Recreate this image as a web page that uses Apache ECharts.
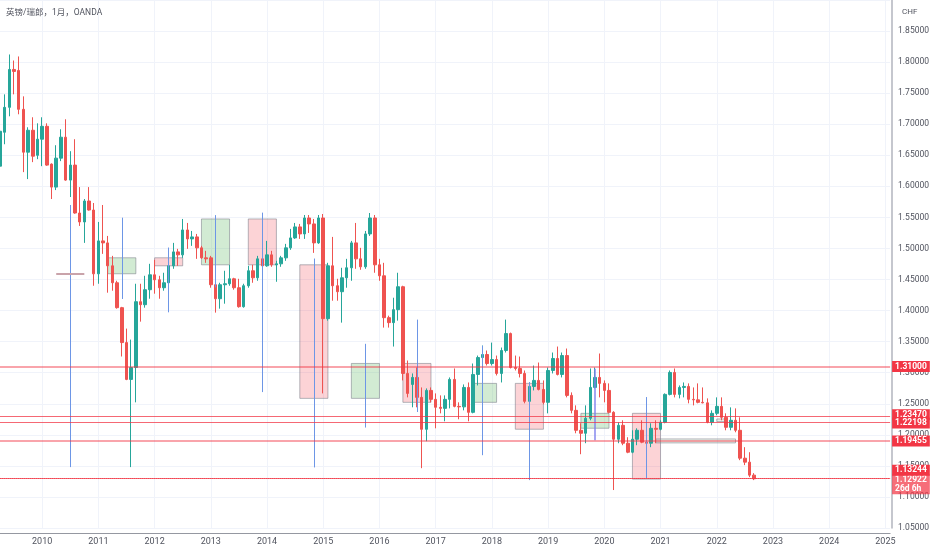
<!DOCTYPE html>
<html>
<head>
<meta charset="utf-8">
<script src="https://cdn.jsdelivr.net/npm/echarts@6/dist/echarts.min.js"></script>
<style>
  html, body { margin: 0; padding: 0; background: #fff; }
  #chart { width: 932px; height: 550px; }
</style>
</head>
<body>
<div id="chart"></div>
<script>
// 月线 GBP/CHF，从 2009-04 开始，[开, 高, 低, 收]
const firstMonth = [2009, 4]
const monthCount = 191
const candles = [
  // 2009
  [1.6325, 1.6951, 1.6245, 1.6887], [1.6871, 1.7481, 1.6678, 1.7272], [1.7272, 1.8123, 1.7128, 1.7882],
  [1.7882, 1.8026, 1.7481, 1.7850], [1.7866, 1.8091, 1.7160, 1.7240], [1.7240, 1.7449, 1.6229, 1.6550],
  [1.6550, 1.6951, 1.6117, 1.6903], [1.6903, 1.7112, 1.6390, 1.6486], [1.6500, 1.7015, 1.6438, 1.6759],
  // 2010
  [1.6759, 1.7112, 1.6325, 1.6967], [1.6967, 1.7015, 1.6330, 1.6342], [1.6358, 1.6370, 1.5796, 1.5988],
  [1.5988, 1.6662, 1.5940, 1.6454], [1.6454, 1.6919, 1.6406, 1.6791], [1.6791, 1.7080, 1.6090, 1.6101],
  [1.6101, 1.6566, 1.5828, 1.6342], [1.6342, 1.6759, 1.5560, 1.5571], [1.5571, 1.5988, 1.5363, 1.5427],
  [1.5427, 1.5796, 1.5090, 1.5764], [1.5764, 1.5988, 1.5610, 1.5619], [1.5619, 1.5732, 1.4400, 1.4592],
  // 2011
  [1.4592, 1.5427, 1.4432, 1.5122], [1.5122, 1.5700, 1.4913, 1.5090], [1.5090, 1.5202, 1.4288, 1.4721],
  [1.4721, 1.4881, 1.4320, 1.4448], [1.4448, 1.4480, 1.4031, 1.4047], [1.4047, 1.4060, 1.3261, 1.3485],
  [1.3485, 1.3710, 1.2880, 1.2892], [1.2892, 1.3533, 1.1480, 1.3084], [1.3084, 1.4432, 1.2523, 1.4143],
  [1.4143, 1.4432, 1.3822, 1.4095], [1.4095, 1.4560, 1.4047, 1.4336], [1.4336, 1.4753, 1.4191, 1.4576],
  // 2012
  [1.4576, 1.4817, 1.4272, 1.4496], [1.4496, 1.4560, 1.4191, 1.4368], [1.4368, 1.4609, 1.4320, 1.4448],
  [1.4448, 1.4769, 1.4400, 1.4721], [1.4721, 1.5090, 1.4673, 1.4945], [1.4945, 1.4994, 1.4721, 1.4897],
  [1.4897, 1.5475, 1.4849, 1.5298], [1.5298, 1.5411, 1.4994, 1.5154], [1.5154, 1.5282, 1.5042, 1.5186],
  [1.5186, 1.5234, 1.4833, 1.5010], [1.5010, 1.5042, 1.4833, 1.4849], [1.4849, 1.4962, 1.4769, 1.4833],
  // 2013
  [1.4849, 1.4881, 1.4368, 1.4416], [1.4416, 1.4448, 1.3967, 1.4191], [1.4191, 1.4448, 1.4031, 1.4416],
  [1.4416, 1.4641, 1.4111, 1.4432], [1.4432, 1.4737, 1.4400, 1.4512], [1.4512, 1.4528, 1.4336, 1.4368],
  [1.4368, 1.4512, 1.4047, 1.4063], [1.4063, 1.4432, 1.4047, 1.4400], [1.4400, 1.4721, 1.4368, 1.4641],
  [1.4641, 1.4737, 1.4448, 1.4528], [1.4528, 1.4881, 1.4480, 1.4833], [1.4833, 1.4929, 1.4592, 1.4721],
  // 2014
  [1.4721, 1.5122, 1.4705, 1.4897], [1.4897, 1.4962, 1.4705, 1.4737], [1.4737, 1.4801, 1.4464, 1.4753],
  [1.4753, 1.4881, 1.4705, 1.4849], [1.4849, 1.5074, 1.4801, 1.5010], [1.5010, 1.5315, 1.4978, 1.5170],
  [1.5170, 1.5411, 1.5154, 1.5347], [1.5347, 1.5395, 1.5154, 1.5234], [1.5234, 1.5539, 1.5154, 1.5491],
  [1.5491, 1.5539, 1.5250, 1.5395], [1.5395, 1.5475, 1.4929, 1.5090], [1.5090, 1.5539, 1.5074, 1.5491],
  // 2015
  [1.5491, 1.5555, 1.2667, 1.3870], [1.3870, 1.4769, 1.3838, 1.4721], [1.4721, 1.5186, 1.4159, 1.4400],
  [1.4400, 1.4512, 1.4159, 1.4304], [1.4304, 1.4689, 1.3806, 1.4528], [1.4528, 1.4833, 1.4368, 1.4689],
  [1.4689, 1.5122, 1.4480, 1.5090], [1.5090, 1.5411, 1.4673, 1.4833], [1.4833, 1.5010, 1.4657, 1.4705],
  [1.4705, 1.5282, 1.4673, 1.5234], [1.5234, 1.5571, 1.5202, 1.5491], [1.5491, 1.5539, 1.4609, 1.4737],
  // 2016
  [1.4737, 1.4833, 1.4480, 1.4560], [1.4560, 1.4769, 1.3726, 1.3886], [1.3886, 1.3918, 1.3726, 1.3806],
  [1.3806, 1.4207, 1.3421, 1.4015], [1.4015, 1.4609, 1.3838, 1.4384], [1.4384, 1.4400, 1.2876, 1.2988],
  [1.2988, 1.3196, 1.2603, 1.2667], [1.2811, 1.2988, 1.2443, 1.2924], [1.2924, 1.3084, 1.2443, 1.2603],
  [1.2603, 1.2763, 1.1463, 1.2089], [1.2089, 1.2747, 1.1897, 1.2715], [1.2715, 1.2763, 1.2523, 1.2571],
  // 2017
  [1.2571, 1.2667, 1.2105, 1.2443], [1.2443, 1.2635, 1.2346, 1.2426], [1.2426, 1.2635, 1.2218, 1.2571],
  [1.2571, 1.2924, 1.2426, 1.2892], [1.2892, 1.3068, 1.2443, 1.2458], [1.2458, 1.2523, 1.2250, 1.2450],
  [1.2450, 1.2811, 1.2394, 1.2763], [1.2763, 1.2843, 1.2218, 1.2362], [1.2362, 1.3148, 1.2346, 1.2972],
  [1.2972, 1.3276, 1.2795, 1.3244], [1.3244, 1.3437, 1.2924, 1.3293], [1.3293, 1.3357, 1.3116, 1.3148],
  // 2018
  [1.3148, 1.3485, 1.3116, 1.3212], [1.3212, 1.3276, 1.2956, 1.2988], [1.2988, 1.3405, 1.2843, 1.3357],
  [1.3357, 1.3855, 1.3325, 1.3630], [1.3630, 1.3646, 1.3068, 1.3084], [1.3084, 1.3276, 1.3036, 1.3068],
  [1.3068, 1.3260, 1.2924, 1.2988], [1.2988, 1.3036, 1.2507, 1.2539], [1.2539, 1.2843, 1.2507, 1.2779],
  [1.2779, 1.3116, 1.2715, 1.2876], [1.2876, 1.3164, 1.2715, 1.2731], [1.2731, 1.2876, 1.2491, 1.2523],
  // 2019
  [1.2523, 1.3084, 1.2346, 1.3036], [1.3036, 1.3325, 1.2988, 1.3229], [1.3229, 1.3421, 1.2956, 1.2972],
  [1.2972, 1.3325, 1.2924, 1.3276], [1.3276, 1.3389, 1.2603, 1.2635], [1.2635, 1.2683, 1.2346, 1.2394],
  [1.2394, 1.2474, 1.2025, 1.2073], [1.2073, 1.2186, 1.1688, 1.2025], [1.2025, 1.2474, 1.1865, 1.2266],
  [1.2266, 1.3068, 1.2234, 1.2763], [1.2763, 1.3084, 1.2747, 1.2924], [1.2924, 1.3309, 1.2603, 1.2828],
  // 2020
  [1.2828, 1.2876, 1.2523, 1.2715], [1.2715, 1.2828, 1.2346, 1.2362], [1.2362, 1.2380, 1.1111, 1.1929],
  [1.1929, 1.2202, 1.1865, 1.2153], [1.2153, 1.2234, 1.1833, 1.1865], [1.1865, 1.1961, 1.1704, 1.1720],
  [1.1720, 1.2073, 1.1704, 1.1929], [1.1929, 1.2105, 1.1833, 1.2073], [1.2073, 1.2234, 1.1865, 1.1881],
  [1.1881, 1.1977, 1.1833, 1.1865], [1.1865, 1.2186, 1.1801, 1.2105], [1.2105, 1.2234, 1.1865, 1.2089],
  // 2021
  [1.2089, 1.2234, 1.2073, 1.2202], [1.2202, 1.2667, 1.2186, 1.2651], [1.2651, 1.3036, 1.2635, 1.3004],
  [1.3004, 1.3068, 1.2603, 1.2651], [1.2651, 1.2795, 1.2587, 1.2763], [1.2763, 1.2843, 1.2603, 1.2779],
  [1.2779, 1.2828, 1.2507, 1.2571], [1.2571, 1.2763, 1.2474, 1.2563], [1.2563, 1.2828, 1.2507, 1.2523],
  [1.2523, 1.2763, 1.2507, 1.2515], [1.2515, 1.2587, 1.2186, 1.2202], [1.2202, 1.2394, 1.2153, 1.2346],
  // 2022
  [1.2346, 1.2603, 1.2314, 1.2458], [1.2458, 1.2603, 1.2234, 1.2282], [1.2282, 1.2346, 1.2073, 1.2121],
  [1.2121, 1.2442, 1.2073, 1.2234], [1.2234, 1.2426, 1.2041, 1.2073], [1.2073, 1.2282, 1.1592, 1.1624],
  [1.1624, 1.1801, 1.1512, 1.1560], [1.1560, 1.1720, 1.1319, 1.1351], [1.1351, 1.1383, 1.1271, 1.12922]
]

// 水平价位线
const levels = [1.31, 1.2347, 1.22198, 1.19455, 1.13244]
const lastPrice = 1.12922
const countdown = '26d 6h'

// 区域框 [起始月, 结束月, 上沿, 下沿, 类型]
const zones = [
  ['2011-03', '2011-09', 1.4850, 1.4593, 'up'],
  ['2012-01', '2012-07', 1.4850, 1.4721, 'down'],
  ['2012-11', '2013-05', 1.5475, 1.4737, 'up'],
  ['2013-09', '2014-03', 1.5475, 1.4737, 'down'],
  ['2014-08', '2015-02', 1.4737, 1.2587, 'down'],
  ['2015-07', '2016-01', 1.3149, 1.2587, 'up'],
  ['2016-06', '2016-12', 1.3149, 1.2523, 'down'],
  ['2017-09', '2018-02', 1.2828, 1.2523, 'up'],
  ['2018-06', '2018-12', 1.2828, 1.2090, 'down'],
  ['2019-08', '2020-02', 1.2346, 1.2106, 'up'],
  ['2020-07', '2021-01', 1.2346, 1.1287, 'down'],
  ['2020-12', '2022-05', 1.1934, 1.1870, 'flat'],
  ['2022-01', '2022-03', 1.2255, 1.2213, 'flat']
]

// 竖线标注 [月份, 上端, 下端]
const wickMarks = [
  ['2010-07', 1.5700, 1.1480], ['2011-06', 1.5496, 1.4187], ['2012-04', 1.5015, 1.3972],
  ['2013-02', 1.5537, 1.4373], ['2013-12', 1.5577, 1.2688], ['2014-11', 1.4838, 1.1475],
  ['2015-10', 1.3465, 1.2117], ['2016-09', 1.3855, 1.2367], ['2017-11', 1.3433, 1.1672],
  ['2018-09', 1.2849, 1.1271], ['2020-10', 1.2608, 1.1299]
]
const purpleMark = ['2019-11', 1.3064, 1.1913]
const shortLine = ['2010-04', '2010-10', 1.4598]

const months = []
for (let i = 0; i < monthCount; i++) {
  const m = firstMonth[1] - 1 + i
  months.push((firstMonth[0] + Math.floor(m / 12)) + '-' + String(m % 12 + 1).padStart(2, '0'))
}
const isJan = (idx, val) => val.slice(5) === '01'

const UP = '#26a69a'
const DOWN = '#ef5350'
const FONT = 'Roboto, "Noto Sans CJK SC", sans-serif'

// 相邻的价签稍微错开，和原图一样
const labelShift = { 1.2347: -1.5, 1.22198: 0.5, 1.13244: -8 }

const levelLines = levels.map(v => {
  const thick = v === 1.31 || v === 1.19455
  return {
    yAxis: v,
    lineStyle: { color: thick ? 'rgba(242,54,69,0.45)' : 'rgba(242,54,69,0.75)', width: thick ? 2 : 1, type: 'solid' },
    label: { formatter: v.toFixed(5), offset: [0, labelShift[v] || 0] }
  }
})
const lastLine = {
  yAxis: lastPrice,
  lineStyle: { color: 'rgba(239,83,80,0.8)', width: 1, type: 'dotted' },
  label: {
    formatter: lastPrice.toFixed(5) + '\n' + countdown,
    backgroundColor: 'rgba(242,54,69,0.72)',
    offset: [0, 6]
  }
}
const vertLines = wickMarks.map(([m, top, bottom]) => [
  { coord: [m, top], lineStyle: { color: '#6d96e6', width: 1, type: 'solid' }, label: { show: false } },
  { coord: [m, bottom] }
])
vertLines.push([
  { coord: [purpleMark[0], purpleMark[1]], lineStyle: { color: 'rgba(126,128,236,0.7)', width: 2, type: 'solid' }, label: { show: false } },
  { coord: [purpleMark[0], purpleMark[2]] }
])
vertLines.push([
  { coord: [shortLine[0], shortLine[2]], lineStyle: { color: '#c9a3aa', width: 2, type: 'solid' }, label: { show: false } },
  { coord: [shortLine[1], shortLine[2]] }
])

const zoneFill = {
  up: 'rgba(76,175,80,0.25)',
  down: 'rgba(242,54,69,0.22)',
  flat: 'rgba(120,170,120,0.15)'
}
const areas = zones.map(([s, e, top, bottom, kind]) => [
  { xAxis: s, yAxis: top, itemStyle: { color: zoneFill[kind], borderColor: 'rgba(120,123,134,0.55)', borderWidth: 1 } },
  { xAxis: e, yAxis: bottom }
])

const myChart = echarts.init(document.getElementById('chart'))

const option = {
  animation: false,
  backgroundColor: '#fff',
  textStyle: { fontFamily: FONT },
  title: [
    { text: '英镑/瑞郎，1月，OANDA', left: 1, top: 4, textStyle: { fontSize: 8.5, fontWeight: 'normal', color: '#50535e', fontFamily: FONT } },
    { text: 'CHF', left: 897, top: 3, textStyle: { fontSize: 8, fontWeight: 'normal', color: '#50535e', fontFamily: FONT } }
  ],
  grid: { left: -0.5, right: 41.9, top: -1.66, bottom: 22 },
  xAxis: {
    type: 'category',
    data: months,
    boundaryGap: false,
    offset: 5,
    axisLine: { lineStyle: { color: '#9598a1', width: 1 } },
    axisTick: { show: false },
    axisLabel: { interval: isJan, formatter: v => v.slice(0, 4), color: '#50535e', fontSize: 9, margin: 4 },
    splitLine: { show: true, interval: isJan, lineStyle: { color: '#f0f3fa', width: 1 } }
  },
  yAxis: {
    type: 'value',
    position: 'right',
    min: 1.05,
    max: 1.90,
    interval: 0.05,
    offset: 2,
    axisLine: { show: true, lineStyle: { color: '#b2b5be', width: 1.5 } },
    axisTick: { show: false },
    axisLabel: { formatter: v => v.toFixed(5), color: '#50535e', fontSize: 8.5, margin: 6, showMaxLabel: false },
    splitLine: { lineStyle: { color: '#f0f3fa', width: 1 } }
  },
  series: [
    {
      type: 'candlestick',
      barWidth: 3,
      data: candles.map(([o, h, l, c]) => [o, c, l, h]),
      itemStyle: { color: UP, color0: DOWN, borderColor: UP, borderColor0: DOWN, borderWidth: 1 },
      markArea: { silent: true, data: areas },
      markLine: {
        silent: true,
        symbol: ['none', 'none'],
        label: {
          show: true,
          position: 'end',
          distance: 2,
          color: '#fff',
          backgroundColor: '#f23645',
          padding: [1, 3],
          fontSize: 8.5,
          lineHeight: 9,
          fontWeight: 'bold',
          fontFamily: FONT
        },
        data: [...vertLines, lastLine, ...levelLines]
      }
    }
  ]
}

myChart.setOption(option)
</script>
</body>
</html>
